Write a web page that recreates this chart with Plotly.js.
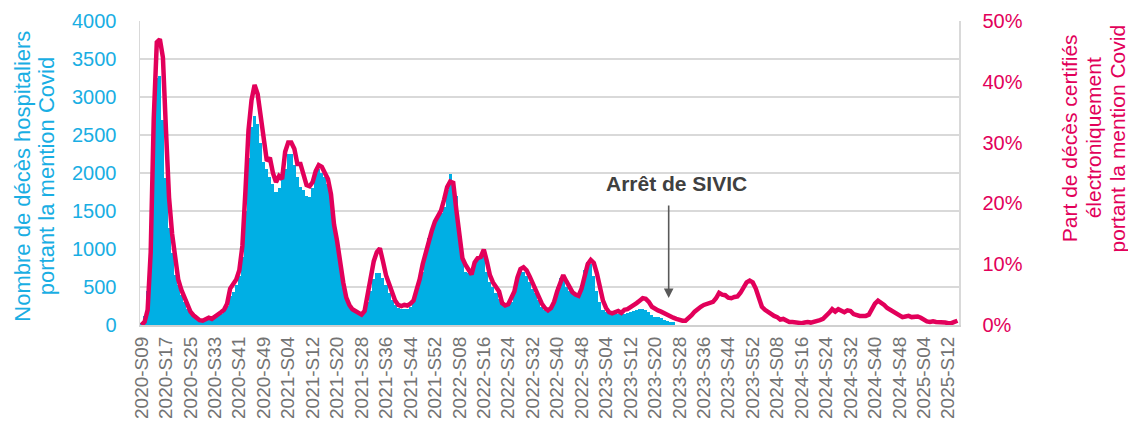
<!DOCTYPE html>
<html>
<head>
<meta charset="utf-8">
<script src="https://cdn.plot.ly/plotly-3.0.1.min.js"></script>
<style>html,body{margin:0;padding:0;background:#fff;}#chart{width:1128px;height:430px;}</style>
</head>
<body>
<div id="chart"></div>
<script>
// Weeks: 2020-S09 .. 2025-S15 (2020 has 53 ISO weeks)
const years = [2020, 2021, 2022, 2023, 2024, 2025];
const firstWeek = [9, 1, 1, 1, 1, 1];
const lastWeek = [53, 52, 52, 52, 52, 15];

// Hospital deaths mentioning Covid (SIVIC), weekly, until 2023-S26
const hospitalDeaths = [
  20, 120, 450, 1300, 2400, 3250, 3270, 2700, 1930, 1280,
  950, 660, 520, 400, 300, 210, 160, 120, 90, 70,
  60, 65, 70, 80, 100, 120, 150, 190, 250, 380,
  440, 520, 640, 900, 1500, 2200, 2600, 2750, 2650, 2400,
  2150, 2050, 1950, 1850, 1750, 1800, 1950, 2050, 2250, 2250,
  2100, 1950, 1820, 1780, 1700, 1680, 1800, 2000, 2050, 2000,
  1950, 1850, 1700, 1300, 1000, 800, 550, 380, 280, 230,
  200, 170, 150, 190, 300, 450, 600, 690, 680, 620,
  520, 420, 330, 260, 220, 210, 205, 215, 240, 300,
  420, 560, 700, 950, 1150, 1250, 1350, 1400, 1480, 1550,
  1780, 1990, 1900, 1700, 1150, 860, 700, 680, 660, 780,
  850, 880, 900, 700, 560, 500, 420, 340, 260, 240,
  250, 300, 450, 620, 720, 700, 640, 560, 480, 420,
  330, 240, 200, 175, 220, 320, 500, 620, 600, 500,
  450, 420, 380, 400, 520, 720, 830, 800, 650, 450,
  300, 200, 170, 160, 160, 165, 150, 140, 150, 160,
  165, 180, 200, 210, 215, 200, 170, 130, 110, 100,
  90, 70, 55, 45, 35
];

// Share of electronically certified deaths mentioning Covid (%)
const covidSharePct = [
  0, 0.5, 2.5, 12, 34, 46.5, 47, 44, 32, 21,
  15, 10.5, 7.5, 5.8, 4.5, 3.2, 2.2, 1.6, 1.1, 0.8,
  0.7, 1.0, 1.2, 1.0, 1.3, 1.7, 2.1, 2.5, 3.5, 6,
  6.8, 7.5, 9, 13, 22, 32, 37, 39.5, 38, 34,
  30, 27, 27.5, 25, 23.5, 24.5, 24, 28.5, 30, 30,
  29, 26.5, 26.5, 24.5, 23, 22.8, 23.5, 25.3, 26.3, 26,
  25, 24, 21.5, 16.5, 13.8, 10, 7, 4.5, 3.3, 2.6,
  2.3, 2.0, 1.7, 2.3, 5, 8, 10.5, 12, 12.6, 10.5,
  8.2, 6.8, 5.6, 4, 3.3, 3.1, 3.3, 3.2, 3.5, 4,
  5.8, 7.5, 10, 12, 13.8, 15.5, 17, 18, 18.8, 20.6,
  22.7, 23.6, 23.4, 19, 15, 11, 9.9, 9, 8.3, 10.3,
  11, 11.2, 12.4, 10.5, 8.2, 7, 6.2, 5.5, 3.6, 3.2,
  3.4, 4.3, 5.5, 7.8, 9.2, 9.5, 9.0, 8, 6.8, 6,
  4.7, 3.5, 2.8, 2.4, 2.8, 3.8, 5.5, 6.8, 8.2, 7.2,
  6.4, 5.4, 5.0, 4.8, 6, 7.7, 10, 10.7, 10.2, 8.5,
  5.8, 4, 2.8, 2.1, 1.9, 2.1, 2.3, 2.0, 2.5, 2.6,
  2.9, 3.1, 3.6, 4.0, 4.4, 4.3, 3.8, 3.0, 2.6, 2.4,
  2.2, 1.9, 1.6, 1.4, 1.2, 1.0, 0.8, 0.7, 0.7, 1.1,
  1.6, 2.2, 2.7, 3.0, 3.3, 3.5, 3.7, 3.8, 4.4, 5.3,
  5.0, 4.9, 4.5, 4.4, 4.6, 4.7, 5.3, 6.0, 7.0, 7.3,
  7.0, 6.0, 4.3, 3.0, 2.5, 2.1, 1.8, 1.5, 1.3, 0.9,
  1.0, 0.8, 0.5, 0.5, 0.4, 0.4, 0.3, 0.4, 0.5, 0.4,
  0.5, 0.6, 0.8, 1.0, 1.4, 2.0, 2.6, 2.2, 2.6, 2.3,
  2.1, 2.4, 2.3, 1.8, 1.6, 1.5, 1.5, 1.5, 1.7, 2.6,
  3.5, 4.0, 3.7, 3.3, 2.8, 2.5, 2.2, 1.8, 1.5, 1.3,
  1.4, 1.5, 1.3, 1.3, 1.4, 1.2, 0.8, 0.6, 0.5, 0.6,
  0.5, 0.5, 0.4, 0.4, 0.3, 0.3, 0.5, 0.7
];

const tickLabels = [
  '2020-S09','2020-S17','2020-S25','2020-S33','2020-S41','2020-S49',
  '2021-S04','2021-S12','2021-S20','2021-S28','2021-S36','2021-S44','2021-S52',
  '2022-S08','2022-S16','2022-S24','2022-S32','2022-S40','2022-S48',
  '2023-S04','2023-S12','2023-S20','2023-S28','2023-S36','2023-S44','2023-S52',
  '2024-S08','2024-S16','2024-S24','2024-S32','2024-S40','2024-S48',
  '2025-S04','2025-S12'
];

const weeks = [];
years.forEach((y, k) => {
  for (let w = firstWeek[k]; w <= lastWeek[k]; w++) {
    weeks.push(y + '-S' + String(w).padStart(2, '0'));
  }
});

const BLUE = '#00AFE4';
const PINK = '#E2005A';
const FONT = 'Liberation Sans, Arial, sans-serif';

const traces = [
  {
    type: 'bar',
    x: weeks.slice(0, hospitalDeaths.length),
    y: hospitalDeaths,
    marker: {color: BLUE, line: {width: 0}},
    yaxis: 'y',
    hoverinfo: 'x+y'
  },
  {
    type: 'scatter',
    mode: 'lines',
    x: weeks,
    y: covidSharePct,
    yaxis: 'y2',
    line: {color: PINK, width: 4.5, shape: 'linear'},
    hoverinfo: 'x+y'
  }
];

const layout = {
  width: 1128,
  height: 430,
  margin: {l: 140, r: 169, t: 21, b: 105, pad: 0},
  paper_bgcolor: '#ffffff',
  plot_bgcolor: '#ffffff',
  showlegend: false,
  bargap: 0,
  font: {family: FONT, size: 20, color: '#595959'},
  xaxis: {
    type: 'category',
    categoryorder: 'array',
    categoryarray: weeks,
    range: [-0.5, weeks.length - 0.5],
    tickmode: 'array',
    tickvals: tickLabels,
    ticktext: tickLabels,
    tickangle: -90,
    tickfont: {family: FONT, size: 19, color: '#737373'},
    ticks: '',
    ticklabelstandoff: 2,
    showgrid: false,
    showline: true,
    linecolor: '#D0D0D0',
    linewidth: 2,
    mirror: false,
    zeroline: false,
    fixedrange: true
  },
  yaxis: {
    range: [0, 4000],
    dtick: 500,
    tick0: 0,
    tickfont: {family: FONT, size: 20, color: '#19AEE3'},
    ticks: '',
    ticklabelstandoff: 18,
    showgrid: true,
    gridcolor: '#D9D9D9',
    gridwidth: 1.3,
    showline: true,
    linecolor: '#D9D9D9',
    linewidth: 1.5,
    zeroline: false,
    fixedrange: true
  },
  yaxis2: {
    overlaying: 'y',
    side: 'right',
    range: [0, 50],
    dtick: 10,
    tick0: 0,
    ticksuffix: '%',
    tickfont: {family: FONT, size: 20, color: PINK},
    ticks: '',
    ticklabelstandoff: 18,
    showgrid: false,
    showline: true,
    linecolor: '#D9D9D9',
    linewidth: 1.5,
    zeroline: false,
    fixedrange: true
  },
  annotations: [
    {
      xref: 'paper', yref: 'paper', x: -0.1445, y: 0.49, xanchor: 'center', yanchor: 'middle',
      textangle: -90, showarrow: false,
      text: 'Nombre de décès hospitaliers',
      font: {family: FONT, size: 22, color: '#19AEE3'}
    },
    {
      xref: 'paper', yref: 'paper', x: -0.1145, y: 0.49, xanchor: 'center', yanchor: 'middle',
      textangle: -90, showarrow: false,
      text: 'portant la mention Covid',
      font: {family: FONT, size: 22, color: '#19AEE3'}
    },
    {
      xref: 'paper', yref: 'paper', x: 1.1345, y: 0.615, xanchor: 'center', yanchor: 'middle',
      textangle: -90, showarrow: false,
      text: 'Part de décès certifiés',
      font: {family: FONT, size: 21, color: PINK}
    },
    {
      xref: 'paper', yref: 'paper', x: 1.164, y: 0.615, xanchor: 'center', yanchor: 'middle',
      textangle: -90, showarrow: false,
      text: 'électroniquement',
      font: {family: FONT, size: 21, color: PINK}
    },
    {
      xref: 'paper', yref: 'paper', x: 1.1935, y: 0.615, xanchor: 'center', yanchor: 'middle',
      textangle: -90, showarrow: false,
      text: 'portant la mention Covid',
      font: {family: FONT, size: 21, color: PINK}
    },
    {
      xref: 'x', yref: 'y', x: 175.0, y: 1868, xanchor: 'center', yanchor: 'middle',
      showarrow: false,
      text: 'Arrêt de SIVIC',
      font: {family: FONT, size: 21, color: '#404040', weight: 'bold'}
    },
    {
      xref: 'x', yref: 'y', x: 172.5, y: 355,
      ax: 0, ay: -94, axref: 'pixel', ayref: 'pixel',
      text: '', showarrow: true,
      arrowhead: 2, arrowsize: 1.2, arrowwidth: 1.6, arrowcolor: '#595959'
    }
  ]
};

Plotly.newPlot('chart', traces, layout, {staticPlot: true, displayModeBar: false});
</script>
</body>
</html>
